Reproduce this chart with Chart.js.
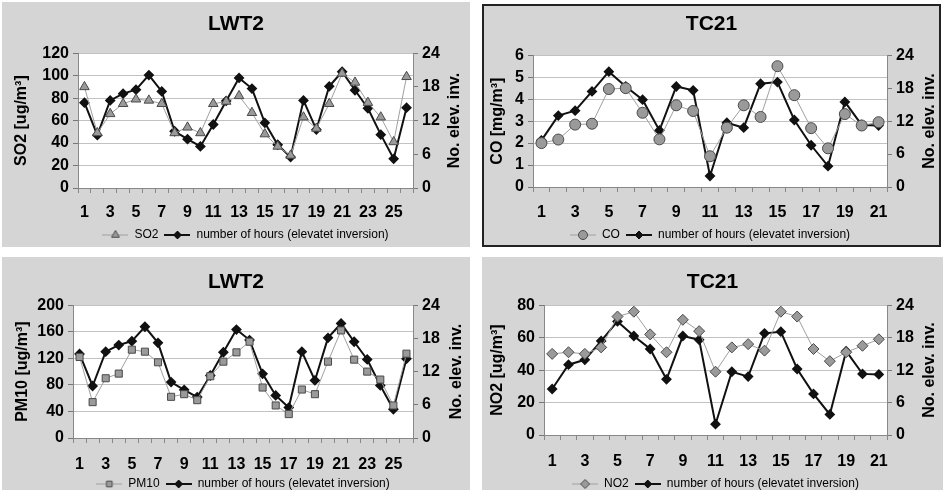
<!DOCTYPE html>
<html>
<head>
<meta charset="utf-8">
<script src="https://cdn.jsdelivr.net/npm/chart.js@4"></script>
<style>
body { margin: 0; width: 943px; height: 490px; background: #fff; position: relative; overflow: hidden; }
.panel { position: absolute; background: #d5d5d5; }
#p1 { left: 2px; top: 2px; width: 468px; height: 245px; }
#p2 { left: 482px; top: 4px; width: 455px; height: 239px; border: 2px solid #222; }
#p3 { left: 2px; top: 257px; width: 468px; height: 233px; }
#p4 { left: 482px; top: 257px; width: 461px; height: 233px; }
canvas { display: block; }
</style>
</head>
<body>
<div class="panel" id="p1"><canvas id="c1" width="468" height="249"></canvas></div>
<div class="panel" id="p2"><canvas id="c2" width="455" height="245"></canvas></div>
<div class="panel" id="p3"><canvas id="c3" width="468" height="243"></canvas></div>
<div class="panel" id="p4"><canvas id="c4" width="461" height="243"></canvas></div>
<script>
// days of measurement
const daysLWT2 = [1, 2, 3, 4, 5, 6, 7, 8, 9, 10, 11, 12, 13, 14, 15, 16, 17, 18, 19, 20, 21, 22, 23, 24, 25, 26];
const daysTC21 = [1, 2, 3, 4, 5, 6, 7, 8, 9, 10, 11, 12, 13, 14, 15, 16, 17, 18, 19, 20, 21];

// pollutant concentrations
const so2 = [90, 49, 66, 75, 79, 78, 75, 49, 54, 49, 75, 77, 82, 67, 48, 37, 29, 63, 53, 75, 102, 94, 76, 63, 41, 99];
const pm10 = [122, 54, 90, 97, 133, 130, 114, 62, 66, 57, 93, 115, 129, 145, 76, 49, 36, 73, 66, 115, 162, 118, 100, 88, 49, 127];
const co = [2.0, 2.16, 2.84, 2.88, 4.46, 4.5, 3.38, 2.17, 3.72, 3.46, 1.4, 2.7, 3.72, 3.19, 5.5, 4.18, 2.68, 1.76, 3.32, 2.8, 2.95];
const no2 = [50, 51, 50, 54, 73, 76, 62, 51, 71, 64, 39, 54, 56, 52, 76, 73, 53, 45.5, 51, 55, 59];

// number of hours with elevated inversion
const hoursLWT2 = [15.2, 9.4, 15.6, 16.8, 17.5, 20.1, 17.2, 10.1, 8.7, 7.4, 11.3, 15.5, 19.6, 17.7, 11.6, 7.7, 5.5, 15.6, 10.4, 18.1, 20.7, 17.4, 14.2, 9.5, 5.2, 14.3];
const hoursTC21 = [8.5, 13.0, 13.9, 17.4, 21.0, 18.3, 15.9, 10.3, 18.3, 17.6, 2.0, 11.7, 10.8, 18.8, 19.1, 12.2, 7.6, 3.8, 15.5, 11.3, 11.2];

const hoursLabel = "number of hours (elevatet inversion)";
const FONT = "'Liberation Sans', Arial, sans-serif";

const plotBg = {
    id: "plotBg",
    beforeDraw(chart) {
        const a = chart.chartArea;
        const ctx = chart.ctx;
        ctx.save();
        ctx.fillStyle = "#fff";
        ctx.fillRect(a.left, a.top, a.right - a.left, a.bottom - a.top);
        ctx.restore();
    }
};

// right axis title reads bottom-to-top like the left one
const rightTitle = {
    id: "rightTitle",
    afterDraw(chart, args, opts) {
        const a = chart.chartArea;
        const ctx = chart.ctx;
        ctx.save();
        ctx.translate(opts.x, (a.top + a.bottom) / 2);
        ctx.rotate(-Math.PI / 2);
        ctx.font = "bold 16px " + FONT;
        ctx.fillStyle = "#000";
        ctx.textAlign = "center";
        ctx.textBaseline = "middle";
        ctx.fillText(opts.text, 0, 0);
        ctx.restore();
    }
};

function marker(g, style, x, y, r) {
    g.beginPath();
    if (style === "circle") {
        g.arc(x, y, r, 0, Math.PI * 2);
    } else if (style === "triangle") {
        g.moveTo(x, y - r);
        g.lineTo(x + r * 0.866, y + r / 2);
        g.lineTo(x - r * 0.866, y + r / 2);
        g.closePath();
    } else if (style === "rect") {
        const s = r * Math.SQRT1_2;
        g.rect(x - s, y - s, 2 * s, 2 * s);
    } else {
        g.moveTo(x - r, y);
        g.lineTo(x, y - r);
        g.lineTo(x + r, y);
        g.lineTo(x, y + r);
        g.closePath();
    }
    g.fill();
    g.stroke();
}

function legendIcon(lineColor, lineWidth, style, r, fill, border) {
    const c = document.createElement("canvas");
    c.width = 26;
    c.height = 14;
    const g = c.getContext("2d");
    g.strokeStyle = lineColor;
    g.lineWidth = lineWidth;
    g.beginPath();
    g.moveTo(0, 7);
    g.lineTo(26, 7);
    g.stroke();
    g.fillStyle = fill;
    g.strokeStyle = border;
    g.lineWidth = 1;
    marker(g, style, 13, 7, r);
    return c;
}

function makeChart(id, o) {
    const icons = [
        legendIcon("#a0a0a0", 1, o.marker, o.radius - 1, "#9a9a9a", "#4a4a4a"),
        legendIcon("#111", 2, "rectRot", 4, "#111", "#111")
    ];
    new Chart(document.getElementById(id), {
        type: "line",
        data: {
            labels: o.labels,
            datasets: [{
                label: o.name,
                data: o.values,
                yAxisID: "y",
                borderColor: "#a0a0a0",
                borderWidth: 1,
                pointStyle: o.marker,
                pointRadius: o.radius,
                pointBackgroundColor: "#9a9a9a",
                pointBorderColor: "#4a4a4a",
                pointBorderWidth: 1
            }, {
                label: hoursLabel,
                data: o.hours,
                yAxisID: "y1",
                borderColor: "#111",
                borderWidth: 2,
                pointStyle: "rectRot",
                pointRadius: 4,
                pointBackgroundColor: "#111",
                pointBorderColor: "#111"
            }]
        },
        options: {
            responsive: false,
            animation: false,
            layout: { padding: 0 },
            plugins: {
                title: {
                    display: true,
                    text: o.title,
                    color: "#000",
                    font: { family: FONT, size: 21, weight: "bold" },
                    padding: { top: o.titleTop, bottom: o.titleBottom }
                },
                legend: {
                    position: "bottom",
                    fullSize: false,
                    labels: {
                        usePointStyle: true,
                        pointStyleWidth: 26,
                        padding: 6,
                        color: "#000",
                        font: { family: FONT, size: 12 },
                        generateLabels(chart) {
                            const items = Chart.defaults.plugins.legend.labels.generateLabels(chart);
                            items.forEach((it, i) => { it.pointStyle = icons[i]; });
                            return items;
                        }
                    }
                },
                tooltip: { enabled: false },
                rightTitle: { x: o.rtX, text: "No. elev. inv." }
            },
            scales: {
                x: {
                    offset: true,
                    grid: { offset: true, drawOnChartArea: false, tickLength: 5, color: "#888", tickColor: "#888" },
                    border: { color: "#888" },
                    ticks: {
                        autoSkip: false,
                        maxRotation: 0,
                        padding: o.xPad,
                        color: "#000",
                        font: { family: FONT, size: 16, weight: "bold" },
                        callback: function(v, i) { return i % 2 === 0 ? this.getLabelForValue(v) : ""; }
                    },
                    afterFit(s) { s.height = o.xh; }
                },
                y: {
                    min: 0,
                    max: o.max,
                    ticks: { stepSize: o.step, padding: 4, color: "#000", font: { family: FONT, size: 16, weight: "bold", lineHeight: 1 } },
                    grid: { color: "#c2c2c2", tickLength: 5, tickColor: "#777" },
                    border: { color: "#888" },
                    title: {
                        display: true,
                        text: o.unit,
                        color: "#000",
                        font: { family: FONT, size: 16, weight: "bold" },
                        padding: { top: o.ytPad, bottom: 0 }
                    },
                    afterFit(s) { s.width = o.left; }
                },
                y1: {
                    position: "right",
                    min: 0,
                    max: 24,
                    ticks: { stepSize: 6, padding: 4, color: "#000", font: { family: FONT, size: 16, weight: "bold", lineHeight: 1 } },
                    grid: { drawOnChartArea: false, tickLength: 5, tickColor: "#777" },
                    border: { color: "#888" },
                    afterFit(s) { s.width = o.right; }
                }
            }
        },
        plugins: [plotBg, rightTitle]
    });
}

makeChart("c1", {
    title: "LWT2", labels: daysLWT2, name: "SO2", values: so2, hours: hoursLWT2,
    unit: "SO2 [ug/m³]", max: 120, step: 20, marker: "triangle", radius: 5.5,
    left: 76, right: 57, titleTop: 10, titleBottom: 16, xh: 35, xPad: 10, ytPad: 10, rtX: 453
});
makeChart("c2", {
    title: "TC21", labels: daysTC21, name: "CO", values: co, hours: hoursTC21,
    unit: "CO [mg/m³]", max: 6, step: 1, marker: "circle", radius: 5.5,
    left: 49, right: 52, titleTop: 6, titleBottom: 18, xh: 36, xPad: 11, ytPad: 4, rtX: 446
});
makeChart("c3", {
    title: "LWT2", labels: daysLWT2, name: "PM10", values: pm10, hours: hoursLWT2,
    unit: "PM10 [ug/m³]", max: 200, step: 40, marker: "rect", radius: 5,
    left: 71, right: 57, titleTop: 13, titleBottom: 10, xh: 34, xPad: 12, ytPad: 11, rtX: 455
});
makeChart("c4", {
    title: "TC21", labels: daysTC21, name: "NO2", values: no2, hours: hoursTC21,
    unit: "NO2 [ug/m³]", max: 80, step: 20, marker: "rectRot", radius: 5.5,
    left: 62, right: 56, titleTop: 13, titleBottom: 10, xh: 37, xPad: 12, ytPad: 6, rtX: 448
});
</script>
</body>
</html>
